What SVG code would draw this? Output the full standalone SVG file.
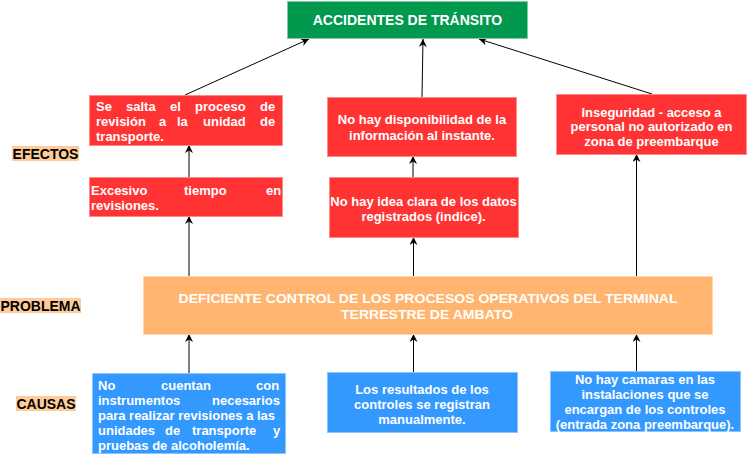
<svg xmlns="http://www.w3.org/2000/svg" width="747" height="455" viewBox="0 0 747 455">
<defs>
<style>
.t{font-family:"Liberation Sans",Arial,sans-serif;font-size:13px;font-weight:bold;fill:#fff}
.c{text-anchor:middle}
.lbl{font-family:"Liberation Sans",Arial,sans-serif;font-size:14px;font-weight:bold;fill:#000;text-anchor:middle}
.red{fill:#FF3333;stroke:#FF8A8A;stroke-width:1}
.blue{fill:#3399FF;stroke:#8CC4FF;stroke-width:1}
.org{fill:#FFB570;stroke:#FFD6AD;stroke-width:1}
.grn{fill:#00994D;stroke:#7FCCA6;stroke-width:1}
.lb{fill:#FFCC99}
.e{fill:none;stroke:#000;stroke-width:1;marker-end:url(#ah)}
</style>
<marker id="ah" viewBox="0 0 10 10" refX="10" refY="5" markerWidth="8" markerHeight="8" orient="auto" markerUnits="userSpaceOnUse">
<path d="M0,0 L10,5 L0,10 L3,5 z" fill="#000"/>
</marker>
</defs>
<rect width="747" height="455" fill="#fff"/>

<g id="connectors">
<path class="e" d="M185,95 L309,39"/>
<path class="e" d="M422,97 L423,39"/>
<path class="e" d="M652,94 L479,39"/>
<path class="e" d="M189,177 L189,145"/>
<path class="e" d="M413,177 L413,156"/>
<path class="e" d="M189,276 L189,216"/>
<path class="e" d="M413.5,276 L413.5,237"/>
<path class="e" d="M636.5,276 L636.5,154"/>
<path class="e" d="M189,373 L189,334"/>
<path class="e" d="M413.5,372 L413.5,334"/>
<path class="e" d="M636.5,371 L636.5,334"/>
</g>

<g id="label-efectos">
<rect class="lb" x="12" y="146" width="67" height="15"/>
<text class="lbl" x="45.5" y="158.5">EFECTOS</text>
</g>
<g id="label-problema">
<rect class="lb" x="0" y="298" width="81" height="15"/>
<text class="lbl" x="40.5" y="310.5">PROBLEMA</text>
</g>
<g id="label-causas">
<rect class="lb" x="16" y="396" width="60" height="15"/>
<text class="lbl" x="46" y="408.5">CAUSAS</text>
</g>

<g id="title">
<rect class="grn" x="287.5" y="1.5" width="240" height="37"/>
<text class="t c" x="407.5" y="25" style="font-size:14px">ACCIDENTES DE TRÁNSITO</text>
</g>

<g id="efecto-salta">
<rect class="red" x="89.5" y="95.5" width="193" height="50"/>
<text class="t" y="110.5"><tspan x="96">Se</tspan><tspan x="126">salta</tspan><tspan x="170">el</tspan><tspan x="195">proceso</tspan><tspan x="260">de</tspan></text>
<text class="t" y="125.5"><tspan x="96">revisión</tspan><tspan x="159">a</tspan><tspan x="177">la</tspan><tspan x="203">unidad</tspan><tspan x="260">de</tspan></text>
<text class="t" x="96" y="140.5">transporte.</text>
</g>

<g id="efecto-excesivo">
<rect class="red" x="89.5" y="177.5" width="193" height="39"/>
<text class="t" y="194.5"><tspan x="91">Excesivo</tspan><tspan x="184">tiempo</tspan><tspan x="266">en</tspan></text>
<text class="t" x="91" y="209.5">revisiones.</text>
</g>

<g id="efecto-disponibilidad">
<rect class="red" x="327.5" y="97.5" width="189" height="59"/>
<text class="t c" x="422" y="124">No hay disponibilidad de la</text>
<text class="t c" x="422" y="139.5">información al instante.</text>
</g>

<g id="efecto-idea">
<rect class="red" x="329.5" y="177.5" width="189" height="60"/>
<text class="t c" x="423.5" y="205.5">No hay idea clara de los datos</text>
<text class="t c" x="423.5" y="220.5">registrados (indice).</text>
</g>

<g id="efecto-inseguridad">
<rect class="red" x="556.5" y="94.5" width="190" height="60"/>
<text class="t c" x="651.5" y="116.5">Inseguridad - acceso a</text>
<text class="t c" x="651.5" y="130.5">personal no autorizado en</text>
<text class="t c" x="651.5" y="145.5">zona de preembarque</text>
</g>

<g id="problema">
<rect class="org" x="143.5" y="276.5" width="569" height="58"/>
<text class="t c" x="428" y="302.5" textLength="499" lengthAdjust="spacingAndGlyphs">DEFICIENTE CONTROL DE LOS PROCESOS OPERATIVOS DEL TERMINAL</text>
<text class="t c" x="427" y="318.5" textLength="172" lengthAdjust="spacingAndGlyphs">TERRESTRE DE AMBATO</text>
</g>

<g id="causa-instrumentos">
<rect class="blue" x="92.5" y="373.5" width="193" height="80"/>
<text class="t" y="389.5"><tspan x="98">No</tspan><tspan x="161">cuentan</tspan><tspan x="256">con</tspan></text>
<text class="t" y="404.5"><tspan x="98">instrumentos</tspan><tspan x="212">necesarios</tspan></text>
<text class="t" x="98" y="419.5">para realizar revisiones a las</text>
<text class="t" y="434.5"><tspan x="98">unidades</tspan><tspan x="165">de</tspan><tspan x="192">transporte</tspan><tspan x="273">y</tspan></text>
<text class="t" x="98" y="449.5">pruebas de alcoholemía.</text>
</g>

<g id="causa-resultados">
<rect class="blue" x="327.5" y="372.5" width="190" height="60"/>
<text class="t c" x="422" y="393.5">Los resultados de los</text>
<text class="t c" x="422" y="408.5">controles se registran</text>
<text class="t c" x="422" y="423.5">manualmente.</text>
</g>

<g id="causa-camaras">
<rect class="blue" x="550.5" y="371.5" width="190" height="60"/>
<text class="t c" x="645" y="383.5">No hay camaras en las</text>
<text class="t c" x="645" y="399">instalaciones que se</text>
<text class="t c" x="645" y="414">encargan de los controles</text>
<text class="t c" x="645" y="429">(entrada zona preembarque).</text>
</g>
</svg>
